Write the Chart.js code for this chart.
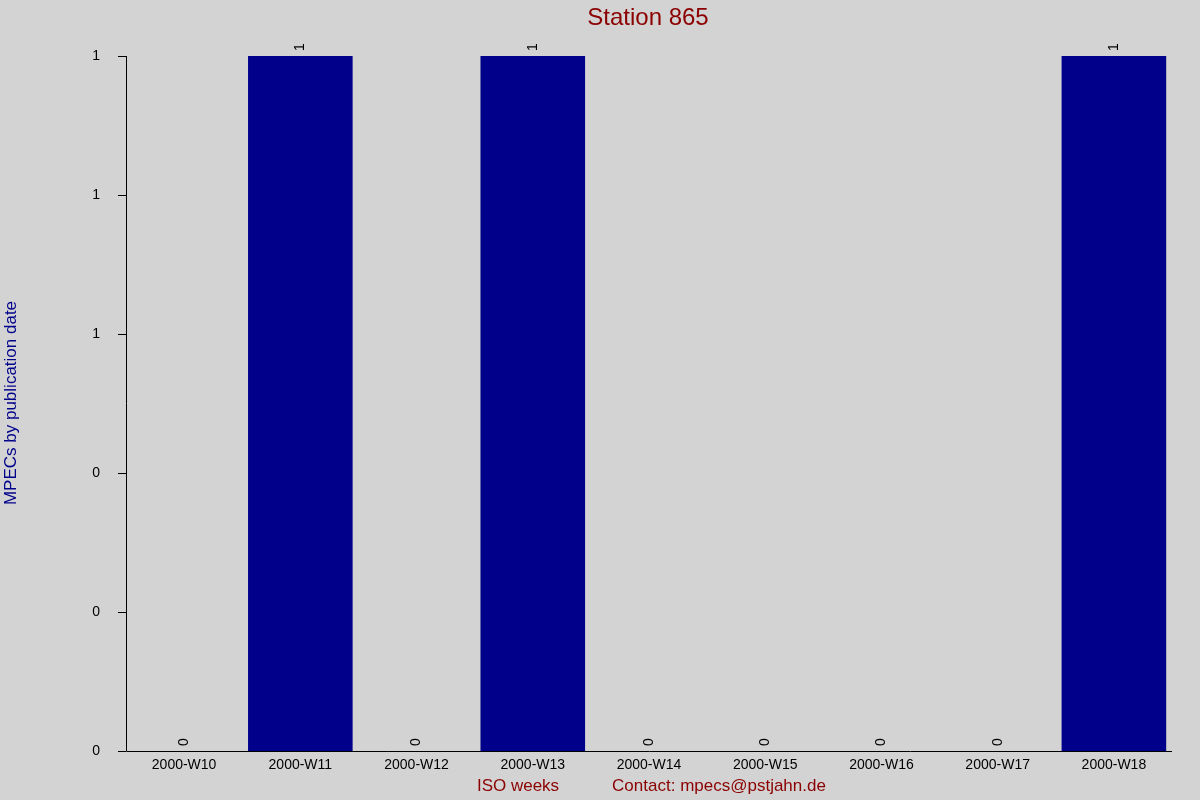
<!DOCTYPE html>
<html>
<head>
<meta charset="utf-8">
<script src="https://cdn.jsdelivr.net/npm/chart.js@4/dist/chart.umd.min.js"></script>
<style>
  html, body { margin: 0; padding: 0; background: #d3d3d3; }
  #wrap { width: 1200px; height: 800px; }
</style>
</head>
<body>
<div id="wrap"><canvas id="myChart" width="1200" height="800"></canvas></div>
<script>
const weeks = ['2000-W10', '2000-W11', '2000-W12', '2000-W13', '2000-W14', '2000-W15', '2000-W16', '2000-W17', '2000-W18'];
const counts = [0, 1, 0, 1, 0, 0, 0, 0, 1];
const yTicks = [0, 0.2, 0.4, 0.6, 0.8, 1];

const FONT = 'Arial, "Liberation Sans", sans-serif';

// titles, value labels, axis lines and tick marks drawn by hand
const extras = {
    id: 'extras',
    afterDraw(chart) {
        const ctx = chart.ctx;
        const area = chart.chartArea;
        ctx.save();
        ctx.textAlign = 'center';
        ctx.textBaseline = 'middle';
        ctx.fillStyle = '#8b0000';
        ctx.font = '24px ' + FONT;
        ctx.fillText('Station 865', 648, 18);
        ctx.font = '17px ' + FONT;
        ctx.fillText('ISO weeks', 518, 786);
        ctx.fillText('Contact: mpecs@pstjahn.de', 719, 786);

        ctx.fillStyle = '#00008b';
        ctx.translate(11, 403);
        ctx.rotate(-Math.PI / 2);
        ctx.fillText('MPECs by publication date', 0, 0);
        ctx.restore();

        const meta = chart.getDatasetMeta(0);
        ctx.save();
        ctx.fillStyle = '#000';
        ctx.font = '14px ' + FONT;
        meta.data.forEach((bar, i) => {
            ctx.save();
            ctx.translate(bar.x, bar.y - 9);
            ctx.rotate(-Math.PI / 2);
            ctx.textAlign = 'center';
            ctx.textBaseline = 'middle';
            ctx.fillText(String(counts[i]), 0, 0);
            ctx.restore();
        });
        ctx.strokeStyle = '#000';
        ctx.lineWidth = 1;
        ctx.beginPath();
        ctx.moveTo(area.left + 0.5, area.top);
        ctx.lineTo(area.left + 0.5, area.bottom + 0.5);
        ctx.lineTo(area.right, area.bottom + 0.5);
        const y = chart.scales.y;
        yTicks.forEach(v => {
            const py = Math.round(y.getPixelForValue(v)) + 0.5;
            ctx.moveTo(area.left - 8, py);
            ctx.lineTo(area.left, py);
        });
        ctx.stroke();
        ctx.restore();
    }
};

new Chart(document.getElementById('myChart'), {
    type: 'bar',
    data: {
        labels: weeks,
        datasets: [{
            data: counts,
            backgroundColor: '#00008b',
            barPercentage: 0.9,
            categoryPercentage: 1.0
        }]
    },
    options: {
        responsive: false,
        animation: false,
        layout: { padding: { top: 56, right: 28, left: 0, bottom: 0 } },
        plugins: { legend: { display: false }, tooltip: { enabled: false } },
        scales: {
            x: {
                grid: { display: false, drawTicks: false },
                border: { display: false },
                ticks: { color: '#000', font: { family: FONT, size: 14 }, maxRotation: 0, padding: 6 },
                afterFit(scale) { scale.height = 49; }
            },
            y: {
                min: 0,
                max: 1,
                afterBuildTicks(scale) { scale.ticks = yTicks.map(v => ({ value: v })); },
                grid: { display: false },
                border: { display: false },
                ticks: {
                    color: '#000',
                    font: { family: FONT, size: 14 },
                    padding: 18,
                    callback: v => String(Math.round(v))
                },
                afterFit(scale) { scale.width = 126; }
            }
        }
    },
    plugins: [extras]
});
</script>
</body>
</html>
